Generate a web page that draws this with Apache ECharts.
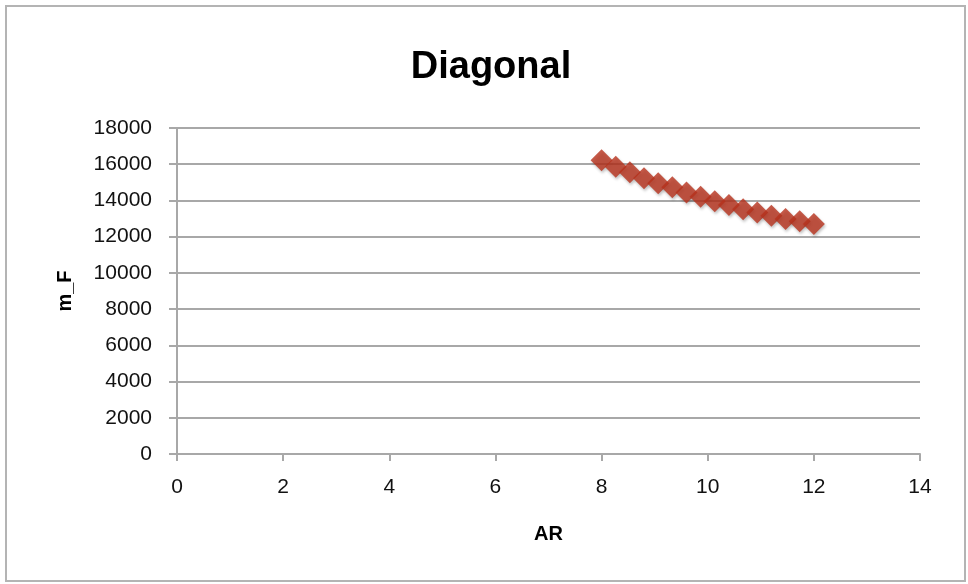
<!DOCTYPE html>
<html>
<head>
<meta charset="utf-8">
<script src="https://cdn.jsdelivr.net/npm/echarts@6/dist/echarts.min.js"></script>
<style>
html,body{margin:0;padding:0;background:#fff;}
#frame{position:absolute;left:5px;top:5px;width:957px;height:573px;border:2px solid #b4b4b4;}
#chart{position:absolute;left:0;top:0;width:968px;height:584px;}
</style>
</head>
<body>
<div id="frame"></div>
<div id="chart"></div>
<script>
const titleText = "Diagonal";
const xName = "AR";
const yName = "m_F";
const arValues = [8, 8.267, 8.533, 8.8, 9.067, 9.333, 9.6, 9.867, 10.133, 10.4, 10.667, 10.933, 11.2, 11.467, 11.733, 12];
const mfValues = [16220, 15860, 15550, 15225, 14950, 14730, 14440, 14200, 13960, 13745, 13515, 13330, 13150, 12975, 12845, 12700];

const points = arValues.map((x, i) => [x, mfValues[i]]);
const fontFam = "'Liberation Sans', 'Open Sans', sans-serif";
const chart = echarts.init(document.getElementById('chart'), null, {renderer: 'canvas'});
chart.setOption({
  animation: false,
  backgroundColor: 'transparent',
  title: {
    text: titleText,
    left: 486,
    top: 44,
    textAlign: 'center',
    textStyle: {fontFamily: fontFam, fontWeight: 'bold', fontSize: 38, color: '#000'}
  },
  grid: {left: 177, right: 48, top: 128, bottom: 130, containLabel: false},
  xAxis: {
    type: 'value', min: 0, max: 14, interval: 2,
    name: xName, nameLocation: 'middle', nameGap: 70,
    nameTextStyle: {fontFamily: fontFam, fontWeight: 'bold', fontSize: 20, color: '#000'},
    axisLine: {show: true, onZero: false, lineStyle: {color: '#a8a8a8', width: 2}},
    axisTick: {show: true, inside: false, length: 7, lineStyle: {color: '#a8a8a8', width: 2}},
    axisLabel: {margin: 23, fontFamily: fontFam, fontSize: 21, color: '#111'},
    splitLine: {show: false}
  },
  yAxis: {
    type: 'value', min: 0, max: 18000, interval: 2000,
    name: yName, nameLocation: 'middle', nameGap: 102, nameRotate: 90,
    nameTextStyle: {fontFamily: fontFam, fontWeight: 'bold', fontSize: 20, color: '#000'},
    axisLine: {show: true, lineStyle: {color: '#a8a8a8', width: 2}},
    axisTick: {show: true, length: 8, lineStyle: {color: '#a8a8a8', width: 2}},
    axisLabel: {margin: 25, fontFamily: fontFam, fontSize: 21, color: '#111', formatter: v => String(v)},
    splitLine: {show: true, lineStyle: {color: '#a8a8a8', width: 2}}
  },
  series: [{
    type: 'scatter',
    data: points,
    symbol: 'diamond',
    symbolSize: 22,
    itemStyle: {color: '#b8321d', shadowColor: 'rgba(0,0,0,0.3)', shadowBlur: 3, shadowOffsetX: 1, shadowOffsetY: 2}
  }]
});
</script>
</body>
</html>
